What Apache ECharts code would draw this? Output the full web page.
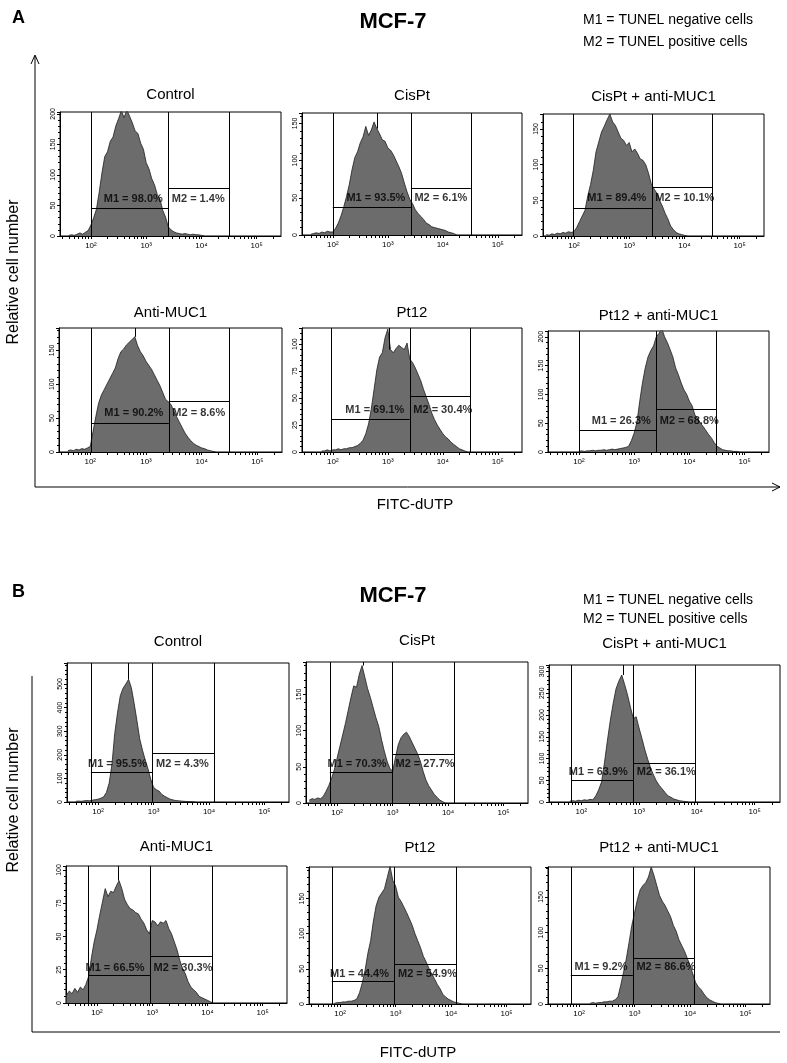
<!DOCTYPE html>
<html><head><meta charset="utf-8">
<script src="https://cdn.jsdelivr.net/npm/echarts@6/dist/echarts.min.js"></script>
<style>html,body{margin:0;padding:0;background:#fff}#c{width:787px;height:1063px}</style>
</head><body><div id="c"></div><script>
// ---------- data ----------
const titles = ['Control','CisPt','CisPt + anti-MUC1','Anti-MUC1','Pt12','Pt12 + anti-MUC1',
                'Control','CisPt','CisPt + anti-MUC1','Anti-MUC1','Pt12','Pt12 + anti-MUC1'];
const m1Text = ['M1 = 98.0%','M1 = 93.5%','M1 = 89.4%','M1 = 90.2%','M1 = 69.1%','M1 = 26.3%',
                'M1 = 95.5%','M1 = 70.3%','M1 = 63.9%','M1 = 66.5%','M1 = 44.4%','M1 = 9.2%'];
const m2Text = ['M2 = 1.4%','M2 = 6.1%','M2 = 10.1%','M2 = 8.6%','M2 = 30.4%','M2 = 68.8%',
                'M2 = 4.3%','M2 = 27.7%','M2 = 36.1%','M2 = 30.3%','M2 = 54.9%','M2 = 86.6%'];
const xDecades = [2,3,4,5];
const xTickLabels = ['10²','10³','10⁴','10⁵'];
const yMax  = [203,164,171,183,115,210,589,195,315,103,195,192];
const yStep = [50,50,50,50,25,50,100,50,50,25,50,50];
// gates (log10 fluorescence) and marker heights (counts)
const gateL  = [2.00,2.00,1.99,2.02,1.98,2.00,1.87,1.87,1.83,1.84,1.85,1.85];
const gateB  = [3.40,3.42,3.41,3.41,3.40,3.40,2.98,2.99,2.90,2.96,2.98,2.97];
const gateR  = [4.50,4.51,4.50,4.50,4.50,4.49,4.09,4.11,3.98,4.08,4.09,4.08];
const gateM1 = [45,37,39,43,30,37,128,43,50,20.5,32,40];
const gateM2 = [78,63,68,74.5,52,74,207,67,88,35,56,64];
const peakX  = [null,2.80,null,2.81,3.03,null,2.55,2.47,2.72,2.39,null,null];
// histograms: counts per 0.05-decade bin, starting at histStart (log10)
const histStart = [1.60,1.60,1.50,1.60,1.80,2.00,1.60,1.50,1.80,1.45,1.90,2.20];
const histStep = 0.05;
const hA1 = [1,2,1,3,5,3,6,9,18,30,44,72,104,130,138,155,162,180,192,205,194,206,196,185,172,168,152,142,120,110,94,84,68,60,42,31,15,10,7,5,4,3,4,3,2,3,2,2,1,0];
const hA2 = [1,2,3,2,4,3,5,4,4,9,16,26,38,52,68,88,104,112,124,132,146,134,141,152,143,136,128,126,117,114,108,100,92,83,70,58,48,42,34,29,25,21,16,14,11,10,9,8,7,6,4,3,2,0];
const hA3 = [2,1,3,2,4,3,5,4,6,5,6,12,20,28,36,56,72,92,118,132,146,154,163,171,160,155,146,137,134,127,131,118,122,116,108,106,100,88,73,66,60,50,42,32,24,14,9,5,3,2,1,0];
const hA4 = [2,3,2,4,3,5,4,6,8,30,52,72,84,92,100,108,116,124,138,148,152,158,162,166,170,157,148,142,134,128,122,114,106,98,88,78,74,70,60,52,44,36,28,22,17,13,10,8,6,5,3,2,1,0];
const hA5 = [1,1,2,1,2,2,3,2,3,3,4,4,5,6,8,11,17,26,40,58,76,88,92,106,114,95,92,96,99,97,95,101,86,83,78,72,66,58,51,44,36,30,25,21,17,14,12,9,7,5,3,2,1,0];
const hA6 = [1,2,1,2,2,3,2,3,3,4,3,4,5,4,5,6,7,8,10,20,33,52,88,120,146,165,176,184,200,206,214,200,190,178,165,146,134,120,108,100,88,80,64,58,50,44,37,30,24,16,10,7,4,3,2,2,1,1,0];
const hB1 = [3,4,3,5,6,5,8,10,12,16,22,40,80,160,290,378,450,482,500,520,484,418,345,268,220,178,140,96,62,52,46,32,24,18,12,9,6,5,4,3,2,2,1,0];
const hB2 = [4,6,5,7,6,9,16,24,34,46,62,78,94,110,128,146,162,160,178,190,174,158,146,132,118,106,88,72,58,48,44,62,80,90,95,98,92,84,76,68,58,44,32,24,18,12,8,4,2,0];
const hB3 = [2,3,2,4,3,5,4,6,5,14,28,46,90,140,186,226,260,278,292,270,246,218,192,196,170,146,120,98,78,62,48,38,30,22,14,11,7,5,3,2,1,0];
const hB4 = [6,9,7,11,8,12,10,14,20,34,46,55,66,76,86,80,84,83,88,92,86,78,74,71,70,68,67,63,60,55,52,62,61,58,61,60,62,56,52,46,40,32,26,22,16,12,10,8,5,4,3,2,1,0];
const hB5 = [1,2,2,3,3,4,4,5,7,16,30,48,72,90,118,140,152,158,164,180,196,176,168,152,146,138,130,121,112,100,90,80,68,60,51,43,36,28,22,14,10,7,5,3,2,1,0];
const hB6 = [1,2,1,2,2,3,3,4,4,6,10,26,44,63,86,110,128,146,160,166,170,178,192,180,166,152,144,138,130,122,110,102,90,82,74,64,54,42,30,24,20,14,9,6,4,2,1,0];
const hists = [hA1,hA2,hA3,hA4,hA5,hA6,hB1,hB2,hB3,hB4,hB5,hB6];

// ---------- layout ----------
const boxes = [ // left, top, width, height
  [60,112,221,124],[302,113,220,122],[543,114,221,122],
  [59,328,223,124],[302,328,220,124],[548,331,221,121],
  [67,663,222,139],[306,662,222,141],[549,665,231,137],
  [66,866,221,137],[309,867,222,137],[548,867,222,137]];
const titleGap = [17,17,17,15,15,15,21,21,21,19,19,19];
const XMIN = 1.44, XMAX = 5.44;
const minorX = [];
for (let n = 1; n <= 5; n++) for (let k = 1; k <= 9; k++) {
  const v = Math.log10(k * Math.pow(10, n));
  if (v > XMIN && v < XMAX) minorX.push(v);
}
const FONT = '"Liberation Sans", Arial, sans-serif';

const grid = [], xAxis = [], yAxis = [], series = [], graphic = [];
boxes.forEach((b, i) => {
  grid.push({left:b[0], top:b[1], width:b[2], height:b[3], show:true, borderColor:'#000', borderWidth:1, containLabel:false});
  xAxis.push({gridIndex:i, type:'value', min:XMIN, max:XMAX,
    axisLine:{show:true, onZero:false, lineStyle:{color:'#000', width:1}},
    axisTick:{show:true, customValues:minorX, length:3, lineStyle:{color:'#000', width:1}},
    axisLabel:{customValues:xDecades, formatter:v => xTickLabels[xDecades.indexOf(Math.round(v))], fontSize:8, margin:6, color:'#000', fontFamily:FONT},
    splitLine:{show:false}});
  yAxis.push({gridIndex:i, type:'value', min:0, max:yMax[i], interval:yStep[i],
    axisLine:{show:true, lineStyle:{color:'#000', width:1}},
    axisTick:{show:true, length:3, lineStyle:{color:'#000'}},
    minorTick:{show:true, splitNumber:5, length:2, lineStyle:{color:'#000'}},
    axisLabel:{rotate:90, fontSize:7, margin:3, color:'#000', showMaxLabel:false, fontFamily:FONT},
    splitLine:{show:false}});
  const h = hists[i];
  const data = h.map((v, k) => [histStart[i] + k * histStep, v]);
  const mk = [
    [{coord:[gateL[i],0]},{coord:[gateL[i],yMax[i]]}],
    [{coord:[gateB[i],0]},{coord:[gateB[i],yMax[i]]}],
    [{coord:[gateR[i],0]},{coord:[gateR[i],yMax[i]]}],
    [{coord:[gateL[i],gateM1[i]]},{coord:[gateB[i],gateM1[i]]}],
    [{coord:[gateB[i],gateM2[i]]},{coord:[gateR[i],gateM2[i]]}]];
  if (peakX[i] !== null) {
    let best = 0, bd = 9;
    data.forEach(p => { const d = Math.abs(p[0] - peakX[i]); if (d < bd) { bd = d; best = p[1]; } });
    mk.push([{coord:[peakX[i],best]},{coord:[peakX[i],yMax[i]]}]);
  }
  series.push({type:'line', xAxisIndex:i, yAxisIndex:i, data:data, showSymbol:false, symbol:'none',
    silent:true, animation:false, clip:true, z:2,
    lineStyle:{color:'#1e1e1e', width:0.8}, areaStyle:{color:'#6c6c6c', opacity:1},
    markLine:{symbol:'none', silent:true, animation:false, label:{show:false}, z:3,
      lineStyle:{color:'#000', width:1, type:'solid'}, emphasis:{disabled:true}, data:mk}});
  const lift = i < 6 ? -10 : -8;
  const lab = {show:true, fontSize:11, fontWeight:'bold', color:'#000', fontFamily:FONT};
  series.push({type:'scatter', xAxisIndex:i, yAxisIndex:i, symbolSize:1, silent:true, animation:false, z:20, zlevel:1,
    itemStyle:{color:'rgba(0,0,0,0)'},
    label:lab,
    labelLayout:{hideOverlap:false, dy:lift},
    data:[
      {value:[gateB[i],gateM1[i]], label:Object.assign({}, lab, {position:'left', distance:5, formatter:m1Text[i]})},
      {value:[gateB[i],gateM1[i]], label:Object.assign({}, lab, {position:'right', distance:3, formatter:m2Text[i]})}]});
  graphic.push({type:'text', x:b[0] + b[2] / 2, y:b[1] - titleGap[i], style:{text:titles[i], font:'15px ' + FONT, fill:'#000', textAlign:'center', textVerticalAlign:'middle'}});
});

// panel headers
[[0, 'A'], [574, 'B']].forEach(([dy, letter]) => {
  graphic.push({type:'text', x:12, y:18 + dy, style:{text:letter, font:'bold 18px ' + FONT, fill:'#000', textVerticalAlign:'middle'}});
  graphic.push({type:'text', x:393, y:22 + dy, style:{text:'MCF-7', font:'bold 22px ' + FONT, fill:'#000', textAlign:'center', textVerticalAlign:'middle'}});
});
graphic.push({type:'text', x:583, y:20, style:{text:'M1 = TUNEL negative cells', font:'14px ' + FONT, fill:'#000', textVerticalAlign:'middle'}});
graphic.push({type:'text', x:583, y:42, style:{text:'M2 = TUNEL positive cells', font:'14px ' + FONT, fill:'#000', textVerticalAlign:'middle'}});
graphic.push({type:'text', x:583, y:600, style:{text:'M1 = TUNEL negative cells', font:'14px ' + FONT, fill:'#000', textVerticalAlign:'middle'}});
graphic.push({type:'text', x:583, y:619, style:{text:'M2 = TUNEL positive cells', font:'14px ' + FONT, fill:'#000', textVerticalAlign:'middle'}});

// panel A arrows
const ax = {stroke:'#000', lineWidth:1, fill:null};
graphic.push({type:'polyline', shape:{points:[[35,56],[35,487],[780,487]]}, style:ax});
graphic.push({type:'polyline', shape:{points:[[31,64],[35,55],[39,64]]}, style:ax});
graphic.push({type:'polyline', shape:{points:[[772,483],[780,487],[772,491]]}, style:ax});
graphic.push({type:'text', x:14, y:272, rotation:Math.PI/2, style:{text:'Relative cell number', font:'16px ' + FONT, fill:'#000', textAlign:'center', textVerticalAlign:'middle'}});
graphic.push({type:'text', x:415, y:505, style:{text:'FITC-dUTP', font:'15px ' + FONT, fill:'#000', textAlign:'center', textVerticalAlign:'middle'}});
// panel B frame
graphic.push({type:'polyline', shape:{points:[[32,676],[32,1032],[780,1032]]}, style:ax});
graphic.push({type:'text', x:14, y:800, rotation:Math.PI/2, style:{text:'Relative cell number', font:'16px ' + FONT, fill:'#000', textAlign:'center', textVerticalAlign:'middle'}});
graphic.push({type:'text', x:418, y:1053, style:{text:'FITC-dUTP', font:'15px ' + FONT, fill:'#000', textAlign:'center', textVerticalAlign:'middle'}});

const chart = echarts.init(document.getElementById('c'), null, {renderer:'canvas'});
chart.setOption({animation:false, backgroundColor:'#fff', grid, xAxis, yAxis, series, graphic});
</script></body></html>
